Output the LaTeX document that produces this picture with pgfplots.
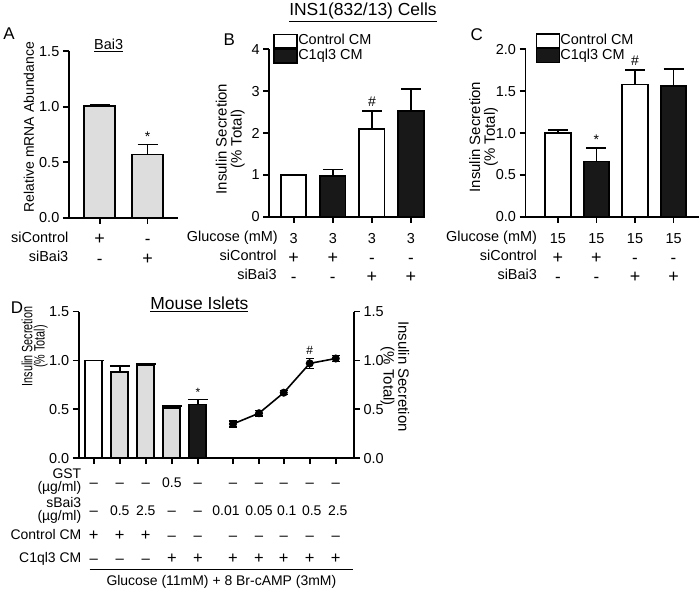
\documentclass[border=0pt]{standalone}
\usepackage{pgfplots}
\pgfplotsset{compat=1.18}
\usepackage{fontspec}
\setmainfont{Liberation Sans}
\definecolor{lgray}{RGB}{221,221,221}
\definecolor{dk}{RGB}{24,24,24}
\newcommand{\fs}{\fontsize{14.5}{19.5}\selectfont}
\newcommand{\fd}{\fontsize{14}{17}\selectfont}
\newcommand{\ft}{\fontsize{17.5}{20}\selectfont}
\newcommand{\fp}{\fontsize{17}{19}\selectfont}
\newcommand{\fy}{\fontsize{15}{15}\selectfont}
\newcommand{\tl}[1]{\begin{tabular}[t]{@{}c@{}}#1\end{tabular}}
\newcommand{\pl}{{\fontsize{18}{10}\selectfont +}}
\newcommand{\mn}{{\fontsize{17}{10}\selectfont -}}
\newcommand{\pd}{{\fontsize{16.5}{10}\selectfont +}}
\newcommand{\md}{{\fontsize{15}{10}\selectfont --}}
\pgfplotsset{
  panel/.style={
    scale only axis, anchor=south west,
    axis x line*=bottom, axis y line*=left,
    axis line style={line width=1.8pt, black},
    tick style={line width=1.8pt, black},
    tick align=outside, major tick length=6pt,
    ymin=0, clip=false,
    /pgf/number format/assume math mode=true,
    yticklabel style={font=\fs},
    xticklabel style={font=\fs, anchor=base, inner sep=0pt, yshift=-21pt},
  },
  decy/.style={yticklabel style={/pgf/number format/fixed, /pgf/number format/fixed zerofill, /pgf/number format/precision=1}},
  barA/.style={ybar, bar shift=0pt, draw=black, line width=1.8pt,
    error bars/y dir=plus, error bars/y explicit,
    error bars/error bar style={line width=1.8pt, black},
    error bars/error mark options={rotate=90, mark size=10pt, line width=1.8pt, black}},
  legB/.style={legend style={draw=none, fill=none, font=\fs, anchor=north west, inner sep=0pt, row sep=0pt,
      nodes={inner sep=0.5pt, text height=10.5pt, text depth=3pt}},
    legend cell align=left,
    legend image code/.code={\draw[##1, line width=1.4pt, draw=black] (0pt,-6.8pt) rectangle (23pt,6.8pt);}},
}
\begin{document}
\begin{tikzpicture}
\path (0,0) rectangle (700pt,-592pt);

% ---------------- Panel A ----------------
\begin{axis}[panel, decy, at={(67pt,-218pt)}, width=110pt, height=167pt,
  xmin=0.354, xmax=2.646, ymax=1.5, ytick={0,0.5,1,1.5},
  xtick={1,2}, xticklabels={\tl{\pl\\\mn},\tl{\mn\\\pl}}]
\addplot[barA, bar width=31pt, fill=lgray] coordinates {(1,1.01) +- (0,0.01) (2,0.57) +- (0,0.09)};
\node[font=\fontsize{14}{14}\selectfont, anchor=south] at (axis cs:2,0.66) {*};
\end{axis}
\node[font=\fp] at (7pt,-33pt) {A};
\node[font=\fs] at (107pt,-45pt) {\underline{Bai3}};
\node[font=\fontsize{14}{14}\selectfont, rotate=90] at (27pt,-127pt) {Relative mRNA Abundance};
\node[font=\fs, anchor=base east] at (70pt,-243pt) {siControl};
\node[font=\fs, anchor=base east] at (70pt,-262pt) {siBai3};

% ---------------- Panel B ----------------
\node[font=\ft] at (362pt,-12pt) {\underline{INS1(832/13) Cells}};
\begin{axis}[panel, legB, at={(268pt,-217pt)}, width=150pt, height=168pt,
  xmin=0.375, xmax=4.2, ymax=4, ytick={0,1,2,3,4},
  xtick={1,2,3,4}, xticklabels={\tl{3\\\pl\\\mn},\tl{3\\\pl\\\mn},\tl{3\\\mn\\\pl},\tl{3\\\mn\\\pl}},
  legend style={at={(0.027,1.095)}}]
\addplot[barA, bar width=25.5pt, fill=white] coordinates {(1,1.0) +- (0,0) (3,2.1) +- (0,0.43)};
\addlegendentry{Control CM}
\addplot[barA, bar width=25.5pt, fill=dk] coordinates {(2,0.97) +- (0,0.16) (4,2.52) +- (0,0.54)};
\addlegendentry{C1ql3 CM}
\node[font=\fontsize{14}{14}\selectfont, anchor=south] at (axis cs:3,2.55) {\#};
\end{axis}
\node[font=\fp] at (228pt,-39pt) {B};
\node[font=\fy, rotate=90, align=center] at (229pt,-139pt) {Insulin Secretion\\(\% Total)};
\node[font=\fs, anchor=base east] at (280pt,-242pt) {Glucose (mM)};
\node[font=\fs, anchor=base east] at (279pt,-261pt) {siControl};
\node[font=\fs, anchor=base east] at (279pt,-280pt) {siBai3};

% ---------------- Panel C ----------------
\begin{axis}[panel, decy, legB, at={(525pt,-217pt)}, width=174pt, height=168pt,
  xmin=0.16, xmax=4.66, ymax=2, ytick={0,0.5,1,1.5,2},
  xtick={1,2,3,4}, xticklabels={\tl{15\\\pl\\\mn},\tl{15\\\pl\\\mn},\tl{15\\\mn\\\pl},\tl{15\\\mn\\\pl}},
  legend style={at={(0.057,1.098)}}]
\addplot[barA, bar width=25.5pt, fill=white] coordinates {(1,1.0) +- (0,0.04) (3,1.58) +- (0,0.17)};
\addlegendentry{Control CM}
\addplot[barA, bar width=25.5pt, fill=dk] coordinates {(2,0.66) +- (0,0.16) (4,1.56) +- (0,0.21)};
\addlegendentry{C1ql3 CM}
\node[font=\fontsize{14}{14}\selectfont, anchor=south] at (axis cs:2,0.82) {*};
\node[font=\fontsize{14}{14}\selectfont, anchor=south] at (axis cs:3,1.76) {\#};
\end{axis}
\node[font=\fp] at (476pt,-34pt) {C};
\node[font=\fy, rotate=90, align=center] at (483pt,-137pt) {Insulin Secretion\\(\% Total)};
\node[font=\fs, anchor=base east] at (540pt,-242pt) {Glucose (mM)};
\node[font=\fs, anchor=base east] at (540pt,-261pt) {siControl};
\node[font=\fs, anchor=base east] at (540pt,-280pt) {siBai3};

% ---------------- Panel D ----------------
\begin{axis}[panel, decy, at={(77pt,-459pt)}, width=276pt, height=147pt,
  xmin=-0.575, xmax=10, ymax=1.5, ytick={0,0.5,1,1.5},
  xtick={0,1,2,3,4,5.35,6.35,7.3,8.3,9.3},
  xticklabel style={font=\fd, yshift=-2pt},
  xticklabels={
    \tl{\md\\[11pt]\md\\[9pt]\pd\\[6pt]\md},
    \tl{\md\\[11pt]0.5\\[9pt]\pd\\[6pt]\md},
    \tl{\md\\[11pt]2.5\\[9pt]\pd\\[6pt]\md},
    \tl{0.5\\[11pt]\md\\[9pt]\md\\[6pt]\pd},
    \tl{\md\\[11pt]\md\\[9pt]\md\\[6pt]\pd},
    \tl{\md\\[11pt]\kern-14pt 0.01\\[9pt]\md\\[6pt]\pd},
    \tl{\md\\[11pt]0.05\\[9pt]\md\\[6pt]\pd},
    \tl{\md\\[11pt]\kern6pt 0.1\\[9pt]\md\\[6pt]\pd},
    \tl{\md\\[11pt]\kern4pt 0.5\\[9pt]\md\\[6pt]\pd},
    \tl{\md\\[11pt]\kern4pt 2.5\\[9pt]\md\\[6pt]\pd}}]
\addplot[barA, bar width=17pt, fill=white] coordinates {(0,1.0) +- (0,0)};
\addplot[barA, bar width=17pt, fill=lgray] coordinates {(1,0.88) +- (0,0.06) (2,0.95) +- (0,0.01) (3,0.51) +- (0,0.02)};
\addplot[barA, bar width=17pt, fill=dk] coordinates {(4,0.55) +- (0,0.05)};
\node[font=\fontsize{12}{12}\selectfont, anchor=south] at (axis cs:4,0.59) {*};
\end{axis}
\begin{axis}[scale only axis, anchor=south west, at={(77pt,-459pt)}, width=276pt, height=147pt,
  xmin=-0.575, xmax=10, ymin=0, ymax=1.5, clip=false,
  axis x line=none, axis y line*=right,
  axis line style={line width=1.8pt, black},
  tick style={line width=1.8pt, black},
  tick align=outside, major tick length=6pt,
  ytick={0,0.5,1,1.5}, decy,
  /pgf/number format/assume math mode=true,
  yticklabel style={font=\fs}]
\addplot[line width=1.6pt, black, mark=*, mark size=3.2pt,
  error bars/y dir=both, error bars/y explicit,
  error bars/error bar style={line width=1.4pt, black},
  error bars/error mark options={rotate=90, mark size=4pt, line width=1.4pt, black}]
  coordinates {(5.35,0.35) +- (0,0.03) (6.35,0.46) +- (0,0.03) (7.3,0.67) +- (0,0.02) (8.3,0.97) +- (0,0.05) (9.3,1.02) +- (0,0.03)};
\node[font=\fontsize{12}{12}\selectfont, anchor=south] at (axis cs:8.3,1.03) {\#};
\end{axis}
\node[font=\fp] at (15pt,-308pt) {D};
\node[font=\ft] at (198pt,-305pt) {\underline{Mouse Islets}};
\node[rotate=90] at (33pt,-347pt) {\scalebox{0.72}[1]{\fontsize{15}{12}\selectfont\begin{tabular}{@{}c@{}}Insulin Secretion\\[-2pt](\% Total)\end{tabular}}};
\node[font=\fy, rotate=-90, align=center] at (394pt,-377pt) {Insulin Secretion\\(\% Total)};
\node[font=\fd, anchor=base east] at (83pt,-479pt) {GST};
\node[font=\fd, anchor=base east] at (83pt,-492pt) {(µg/ml)};
\node[font=\fd, anchor=base east] at (83pt,-508pt) {sBai3};
\node[font=\fd, anchor=base east] at (83pt,-521pt) {(µg/ml)};
\node[font=\fd, anchor=base east] at (83pt,-541pt) {Control CM};
\node[font=\fd, anchor=base east] at (83pt,-564pt) {C1ql3 CM};
\draw[line width=1pt] (88pt,-571pt) -- (352pt,-571pt);
\node[font=\fd] at (220pt,-583pt) {Glucose (11mM) + 8 Br-cAMP (3mM)};
\end{tikzpicture}
\end{document}
